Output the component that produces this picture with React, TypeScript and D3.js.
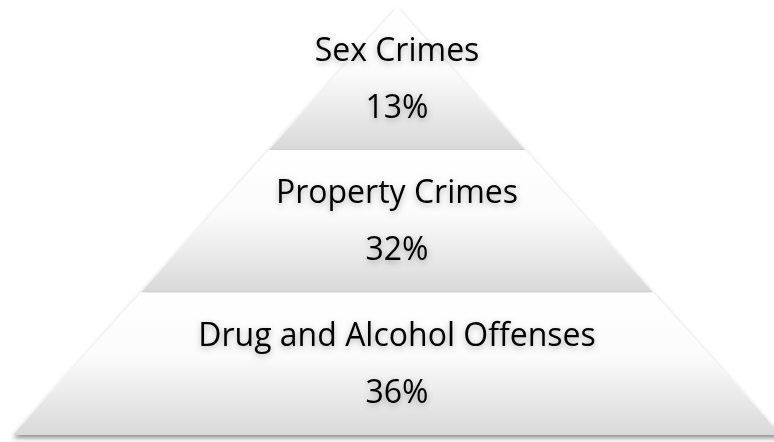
import React from "react";
import * as d3 from "d3";

// Pyramid tiers, listed from the apex down
const categories = ["Sex Crimes", "Property Crimes", "Drug and Alcohol Offenses"];
const shares = [13, 32, 36];

const W = 774;
const H = 442;
const apexX = 397;
const apexY = 7.5;
const baseY = 435;
const baseHalfWidth = 384;

export default function App() {
  // vertical position of each tier (equal-height bands)
  const yBand = d3.scaleBand<string>().domain(categories).range([apexY, baseY]).padding(0);
  // half-width of the pyramid as a function of y
  const halfW = d3.scaleLinear().domain([apexY, baseY]).range([0, baseHalfWidth]);

  const tiers = categories.map((name, i) => {
    const y0 = yBand(name)!;
    const y1 = y0 + yBand.bandwidth();
    const w0 = halfW(y0);
    const w1 = halfW(y1);
    const pts: [number, number][] = [
      [apexX - w0, y0],
      [apexX + w0, y0],
      [apexX + w1, y1],
      [apexX - w1, y1],
    ];
    const path = d3.line()(pts)! + "Z";
    return { name, value: shares[i], y0, y1, path };
  });

  return (
    <svg
      width={W}
      height={H}
      style={{ position: "fixed", left: 0, top: 0, display: "block", background: "#fff" }}
    >
      <defs>
        <linearGradient id="tierFill" x1="0" y1="0" x2="0" y2="1">
          <stop offset="0" stopColor="#ffffff" />
          <stop offset="0.45" stopColor="#fbfbfb" />
          <stop offset="1" stopColor="#d9d9d9" />
        </linearGradient>
        <filter id="tierShadow" x="-10%" y="-10%" width="120%" height="130%">
          <feDropShadow dx="0" dy="3" stdDeviation="2.4" floodColor="#000" floodOpacity="0.45" />
        </filter>
        <filter id="textShadow" x="-10%" y="-30%" width="120%" height="170%">
          <feDropShadow dx="0" dy="2" stdDeviation="3" floodColor="#000" floodOpacity="0.3" />
        </filter>
      </defs>

      {tiers.map((t) => (
        <path key={t.name} d={t.path} fill="url(#tierFill)" filter="url(#tierShadow)" />
      ))}

      {tiers.map((t) => (
        <g
          key={t.name + "-label"}
          filter="url(#textShadow)"
          fontFamily="'Open Sans', 'Noto Sans', sans-serif"
          fontSize={32}
          fill="#000"
          textAnchor="middle"
        >
          <text x={apexX} y={t.y0 + 53}>{t.name}</text>
          <text x={apexX} y={t.y0 + 110}>{`${t.value}%`}</text>
        </g>
      ))}
    </svg>
  );
}
